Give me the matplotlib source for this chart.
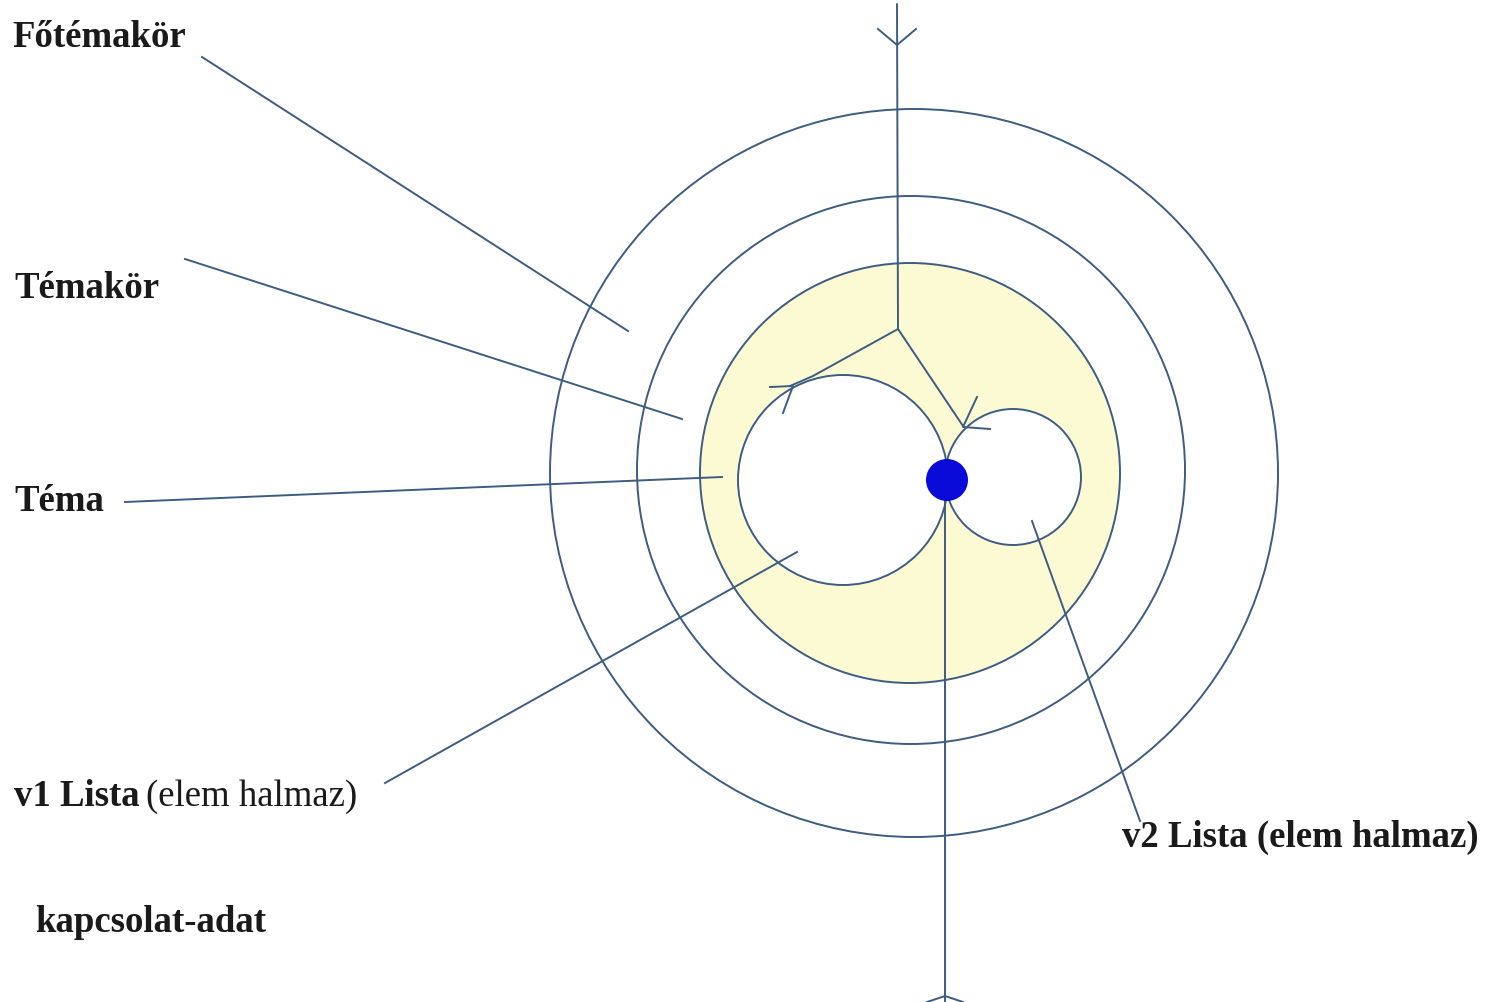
"""
Concentric topic diagram (Főtémakör / Témakör / Téma with two lists).
Drawn in pixel-like coordinates, y pointing down, saved as out.png.
"""

import matplotlib.pyplot as plt
from matplotlib.patches import Circle

LINE = "#3d5c82"
YELLOW = "#fcfad2"
DOT = "#0a0ad8"

# circles: (cx, cy, r, facecolor)
circles = [
    (914, 474, 364, "none"),
    (911, 471, 274, "none"),
    (910, 474, 210, YELLOW),
    (843, 481, 105, "white"),
    (1013, 478, 68, "white"),
]
dot = (947, 481, 21)

# connection paths (polylines)
paths = [
    [(897, 5), (898, 330)],
    [(898, 330), (813, 377), (790, 387)],
    [(898, 330), (963, 427)],
    [(945, 500), (945, 1003)],
]
# arrowheads: (tip, wing1, wing2)
arrowheads = [
    ((897, 46), (878, 30), (916, 30)),
    ((793, 387), (770, 388), (783, 414)),
    ((963, 428), (977, 398), (990, 430)),
    ((945, 997), (927, 1003), (963, 1003)),
]

# leader lines from labels to regions
leaders = [
    ((202, 58), (628, 332)),
    ((185, 260), (682, 420)),
    ((125, 503), (722, 478)),
    ((385, 784), (797, 553)),
    ((1140, 822), (1032, 522)),
]

# labels: (x, baseline y, text, weight)
labels = [
    (12, 47, "Főtémakör", "bold"),
    (14, 298, "Témakör", "bold"),
    (14, 511, "Téma", "bold"),
    (14, 806, "v1 Lista", "bold"),
    (146, 806, "(elem halmaz)", "normal"),
    (1122, 847, "v2 Lista (elem halmaz)", "bold"),
    (35, 932, "kapcsolat-adat", "bold"),
]


def main():
    fig = plt.figure(figsize=(14.95, 10.03), dpi=100)
    ax = fig.add_axes([0, 0, 1, 1])
    ax.set_xlim(0, 1495)
    ax.set_ylim(1003, 0)
    ax.set_aspect("equal")
    ax.axis("off")

    for cx, cy, r, fc in circles:
        ax.add_patch(Circle((cx, cy), r, facecolor=fc, edgecolor=LINE, lw=1.4))
    ax.add_patch(Circle(dot[:2], dot[2], facecolor=DOT, edgecolor="none", zorder=5))

    for pts in paths:
        xs, ys = zip(*pts)
        ax.plot(xs, ys, color=LINE, lw=1.4, solid_capstyle="round")
    for tip, w1, w2 in arrowheads:
        ax.plot([w1[0], tip[0], w2[0]], [w1[1], tip[1], w2[1]], color=LINE, lw=1.4)

    for (x0, y0), (x1, y1) in leaders:
        ax.plot([x0, x1], [y0, y1], color=LINE, lw=1.4)

    for x, y, text, weight in labels:
        ax.text(x, y, text, fontsize=26.5, fontweight=weight, family="Liberation Serif",
                color="#1a1a1a", va="baseline", ha="left")

    fig.savefig("out.png", dpi=100, facecolor="white")
    plt.close(fig)


if __name__ == "__main__":
    main()
